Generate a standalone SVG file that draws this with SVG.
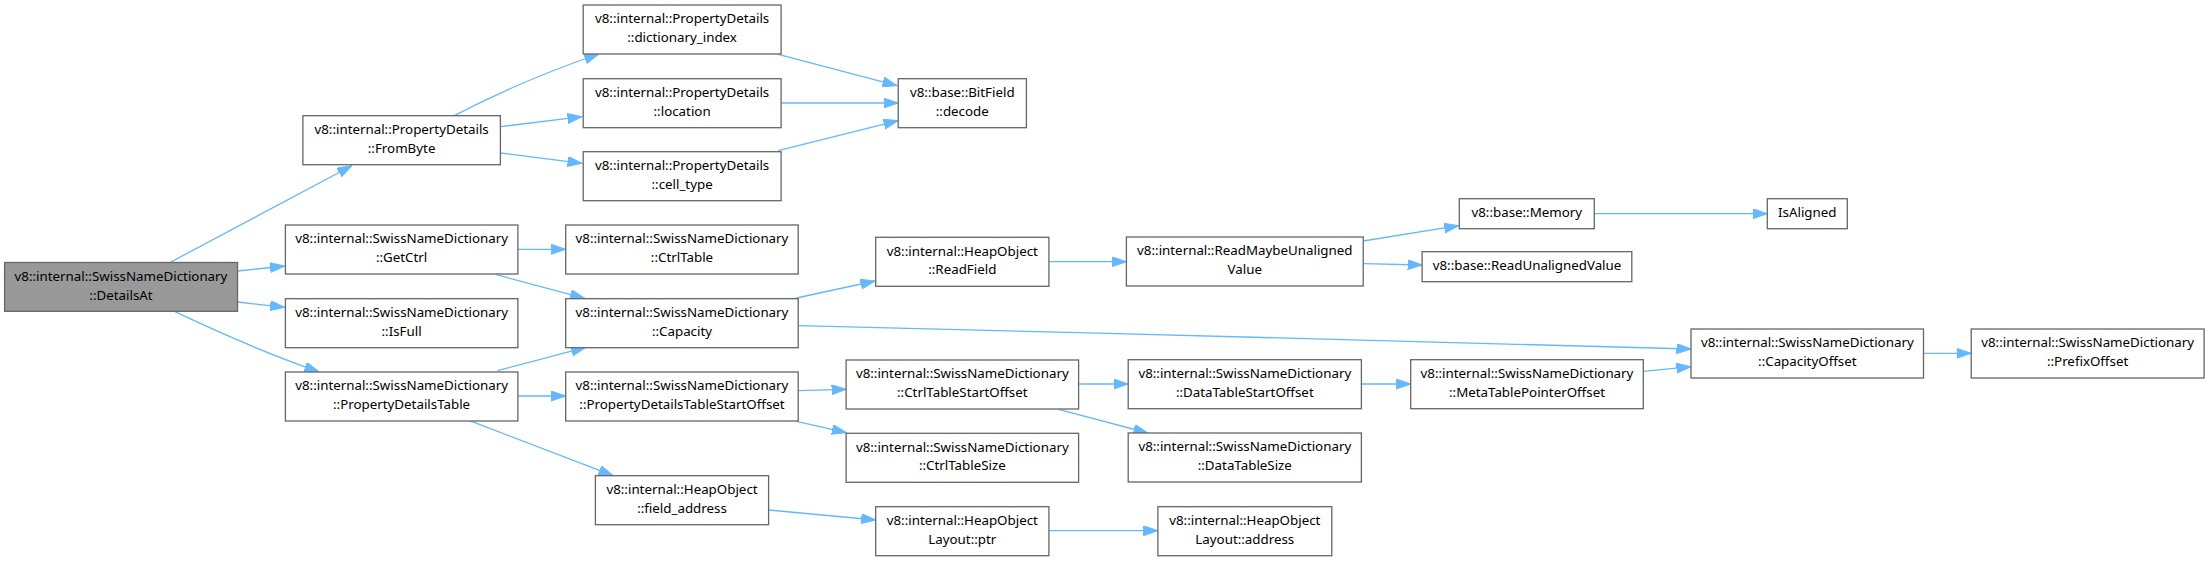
<svg xmlns="http://www.w3.org/2000/svg" width="2209" height="561" viewBox="0 0 2209 561">
<style>
.n rect{fill:#fff;stroke:#666;stroke-width:1.3}
.n.root rect{fill:#999}
.n text{font-family:"Noto Sans","Liberation Sans",sans-serif;font-size:13.33px;fill:#000;text-anchor:middle}
.e path{fill:none;stroke:#63b8ff;stroke-width:1.3;marker-end:url(#ah)}
</style>
<defs>
<marker id="ah" markerUnits="userSpaceOnUse" markerWidth="15" markerHeight="11" refX="14.5" refY="5" orient="auto">
<path d="M0,0 L14.5,5 L0,10 z" fill="#63b8ff" stroke="#63b8ff" stroke-width="1"/>
</marker>
</defs>
<rect width="2209" height="561" fill="#fff"/>
<g id="edges" class="e">
<path d="M169.6,262.7 L351.8,165.7"/>
<path d="M237.5,271 L284.6,266"/>
<path d="M237.5,302 L284.6,307.3"/>
<path d="M175,311.7 C220,333 270,355 318.9,371.7"/>
<path d="M454.3,115.7 C490,97 540,74 598.9,54"/>
<path d="M500.4,126.7 L582.1,116.7"/>
<path d="M500.4,153 L582.1,163.3"/>
<path d="M517.9,249.3 L565.7,249.3"/>
<path d="M496.4,274.7 L584.6,298.3"/>
<path d="M497.5,370.7 L585.7,347.3"/>
<path d="M517.9,396 L565.7,396"/>
<path d="M469.6,420.7 L613.2,475.7"/>
<path d="M778.2,54.3 L897.1,85.7"/>
<path d="M781.1,103 L898.2,103"/>
<path d="M778.2,150.7 L898.2,120.7"/>
<path d="M796.4,298 L875,281"/>
<path d="M798.2,325.7 C1100,333 1500,343 1691,349"/>
<path d="M798.2,390.7 L846.1,389.3"/>
<path d="M796.4,421.3 L846.4,432.7"/>
<path d="M768.6,510 L875.7,520"/>
<path d="M1048.9,261.7 L1126.4,261.7"/>
<path d="M1363.2,241 L1458.6,225.7"/>
<path d="M1363.2,263.7 L1422.1,265"/>
<path d="M1594.3,213.7 L1767.3,213.7"/>
<path d="M1078.6,384 L1128.2,384"/>
<path d="M1058.6,409.3 L1147.9,433"/>
<path d="M1361.4,384 L1410.7,384"/>
<path d="M1643.3,371.3 L1691,366.7"/>
<path d="M1923.5,353.3 L1971.2,353.3"/>
<path d="M1048.9,530.7 L1157.9,530.7"/>
</g>
<g id="DetailsAt" class="n root"><rect x="4.6" y="262.5" width="232.9" height="48.8"/><text x="121" y="281">v8::internal::SwissNameDictionary</text><text x="121" y="299.5">::DetailsAt</text></g>
<g id="FromByte" class="n"><rect x="302.9" y="115.7" width="197.5" height="49"/><text x="401.6" y="134">v8::internal::PropertyDetails</text><text x="401.6" y="152.5">::FromByte</text></g>
<g id="GetCtrl" class="n"><rect x="285.4" y="225" width="232.5" height="49"/><text x="401.6" y="243.3">v8::internal::SwissNameDictionary</text><text x="401.6" y="261.8">::GetCtrl</text></g>
<g id="IsFull" class="n"><rect x="285.4" y="298.7" width="232.5" height="49"/><text x="401.6" y="317">v8::internal::SwissNameDictionary</text><text x="401.6" y="335.5">::IsFull</text></g>
<g id="PropertyDetailsTable" class="n"><rect x="285.4" y="372" width="232.5" height="49"/><text x="401.6" y="390.3">v8::internal::SwissNameDictionary</text><text x="401.6" y="408.8">::PropertyDetailsTable</text></g>
<g id="dictionary_index" class="n"><rect x="583.2" y="5" width="197.9" height="49"/><text x="682.1" y="23.3">v8::internal::PropertyDetails</text><text x="682.1" y="41.8">::dictionary_index</text></g>
<g id="location" class="n"><rect x="583.2" y="78.7" width="197.9" height="49"/><text x="682.1" y="97">v8::internal::PropertyDetails</text><text x="682.1" y="115.5">::location</text></g>
<g id="cell_type" class="n"><rect x="583.2" y="151.7" width="197.9" height="49"/><text x="682.1" y="170">v8::internal::PropertyDetails</text><text x="682.1" y="188.5">::cell_type</text></g>
<g id="BitField_decode" class="n"><rect x="898.2" y="78.7" width="128.2" height="49"/><text x="962.3" y="97">v8::base::BitField</text><text x="962.3" y="115.5">::decode</text></g>
<g id="CtrlTable" class="n"><rect x="565.7" y="225" width="232.5" height="49"/><text x="682" y="243.3">v8::internal::SwissNameDictionary</text><text x="682" y="261.8">::CtrlTable</text></g>
<g id="Capacity" class="n"><rect x="565.7" y="298.7" width="232.5" height="49"/><text x="682" y="317">v8::internal::SwissNameDictionary</text><text x="682" y="335.5">::Capacity</text></g>
<g id="PropertyDetailsTableStartOffset" class="n"><rect x="565.7" y="372" width="232.5" height="49"/><text x="682" y="390.3">v8::internal::SwissNameDictionary</text><text x="682" y="408.8">::PropertyDetailsTableStartOffset</text></g>
<g id="field_address" class="n"><rect x="595.4" y="475.7" width="173.2" height="49"/><text x="682" y="494">v8::internal::HeapObject</text><text x="682" y="512.5">::field_address</text></g>
<g id="ReadField" class="n"><rect x="875.7" y="237.3" width="173.2" height="49"/><text x="962.3" y="255.6">v8::internal::HeapObject</text><text x="962.3" y="274.1">::ReadField</text></g>
<g id="CtrlTableStartOffset" class="n"><rect x="846.1" y="360" width="232.5" height="49"/><text x="962.3" y="378.3">v8::internal::SwissNameDictionary</text><text x="962.3" y="396.8">::CtrlTableStartOffset</text></g>
<g id="CtrlTableSize" class="n"><rect x="846.1" y="433.3" width="232.5" height="49"/><text x="962.3" y="451.6">v8::internal::SwissNameDictionary</text><text x="962.3" y="470.1">::CtrlTableSize</text></g>
<g id="LayoutPtr" class="n"><rect x="875.7" y="506.7" width="173.2" height="49"/><text x="962.3" y="525">v8::internal::HeapObject</text><text x="962.3" y="543.5">Layout::ptr</text></g>
<g id="ReadMaybeUnalignedValue" class="n"><rect x="1126.4" y="237" width="236.8" height="49"/><text x="1244.8" y="255.3">v8::internal::ReadMaybeUnaligned</text><text x="1244.8" y="273.8">Value</text></g>
<g id="Memory" class="n"><rect x="1459.3" y="198.7" width="135" height="30"/><text x="1526.8" y="216.7">v8::base::Memory</text></g>
<g id="ReadUnalignedValue" class="n"><rect x="1422.1" y="251.7" width="209.7" height="30"/><text x="1527" y="269.7">v8::base::ReadUnalignedValue</text></g>
<g id="IsAligned" class="n"><rect x="1767.3" y="198.7" width="80" height="30"/><text x="1807.3" y="216.7">IsAligned</text></g>
<g id="DataTableStartOffset" class="n"><rect x="1128.2" y="359.7" width="233.2" height="49"/><text x="1244.8" y="378">v8::internal::SwissNameDictionary</text><text x="1244.8" y="396.5">::DataTableStartOffset</text></g>
<g id="DataTableSize" class="n"><rect x="1128.2" y="433" width="233.2" height="49"/><text x="1244.8" y="451.3">v8::internal::SwissNameDictionary</text><text x="1244.8" y="469.8">::DataTableSize</text></g>
<g id="MetaTablePointerOffset" class="n"><rect x="1410.7" y="359.7" width="232.6" height="49"/><text x="1527" y="378">v8::internal::SwissNameDictionary</text><text x="1527" y="396.5">::MetaTablePointerOffset</text></g>
<g id="CapacityOffset" class="n"><rect x="1691" y="329" width="232.5" height="49"/><text x="1807.3" y="347.3">v8::internal::SwissNameDictionary</text><text x="1807.3" y="365.8">::CapacityOffset</text></g>
<g id="PrefixOffset" class="n"><rect x="1971.2" y="329" width="232.9" height="49"/><text x="2087.6" y="347.3">v8::internal::SwissNameDictionary</text><text x="2087.6" y="365.8">::PrefixOffset</text></g>
<g id="LayoutAddress" class="n"><rect x="1157.9" y="506.7" width="173.9" height="49"/><text x="1244.8" y="525">v8::internal::HeapObject</text><text x="1244.8" y="543.5">Layout::address</text></g>
</svg>
